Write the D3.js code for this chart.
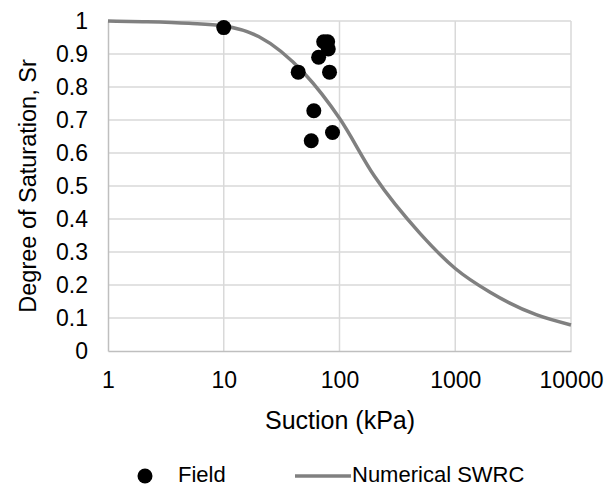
<!DOCTYPE html>
<html>
<head>
<meta charset="utf-8">
<script src="https://cdn.jsdelivr.net/npm/d3@7"></script>
<style>
body { margin: 0; background: #fff; }
text { font-family: "Liberation Sans", Arial, sans-serif; fill: #000; }
</style>
</head>
<body>
<div id="chart"></div>
<script>
// field measurements
var fieldSuction = [10, 73, 79, 80, 66, 44, 82, 60, 87, 57];
var fieldSr      = [0.98, 0.937, 0.937, 0.915, 0.89, 0.845, 0.845, 0.728, 0.662, 0.637];

// numerical SWRC
var swrcSuction = [1, 2, 5, 10, 20, 50, 100, 200, 500, 1000, 2000, 5000, 10000];
var swrcSr      = [1.0, 0.998, 0.993, 0.985, 0.953, 0.84, 0.705, 0.53, 0.355, 0.25, 0.178, 0.11, 0.079];

var xTicks = [1, 10, 100, 1000, 10000];
var yTicks = [0, 0.1, 0.2, 0.3, 0.4, 0.5, 0.6, 0.7, 0.8, 0.9, 1];

function main() {
    var W = 607, H = 487;
    var x = d3.scaleLog().domain([1, 10000]).range([108, 571]);
    var y = d3.scaleLinear().domain([0, 1]).range([351, 21]);

    var svg = d3.select("#chart").append("svg")
        .attr("width", W).attr("height", H);

    // gridlines
    var grid = svg.append("g");
    grid.selectAll("line.h")
        .data(yTicks.slice(1))
        .enter().append("line")
        .attr("x1", x(1)).attr("x2", x(10000))
        .attr("y1", function(d) { return y(d); })
        .attr("y2", function(d) { return y(d); })
        .attr("stroke", "#d9d9d9").attr("stroke-width", 1.5);
    grid.selectAll("line.v")
        .data(xTicks.slice(1))
        .enter().append("line")
        .attr("x1", function(d) { return x(d); })
        .attr("x2", function(d) { return x(d); })
        .attr("y1", y(0)).attr("y2", y(1))
        .attr("stroke", "#d9d9d9").attr("stroke-width", 1.5);

    // axes
    var xAxis = d3.axisBottom(x).tickValues(xTicks).tickSize(0).tickPadding(21)
        .tickFormat(d3.format("d"));
    var gx = svg.append("g").attr("transform", "translate(0," + y(0) + ")").call(xAxis);
    var yAxis = d3.axisLeft(y).tickValues(yTicks).tickSize(0).tickPadding(20)
        .tickFormat(function(d) { return d === 0 || d === 1 ? d3.format("d")(d) : d3.format(".1f")(d); });
    var gy = svg.append("g").attr("transform", "translate(" + x(1) + ",0)").call(yAxis);
    [gx, gy].forEach(function(g) {
        g.select(".domain").attr("stroke", "#bfbfbf").attr("stroke-width", 1.5);
        g.selectAll("text").style("font-size", "23px")
            .style("font-family", "'Liberation Sans', Arial, sans-serif").attr("fill", "#000");
    });

    // curve
    var swrc = swrcSuction.map(function(s, i) { return [s, swrcSr[i]]; });
    var line = d3.line()
        .x(function(d) { return x(d[0]); })
        .y(function(d) { return y(d[1]); })
        .curve(d3.curveMonotoneX);
    svg.append("path").datum(swrc)
        .attr("d", line)
        .attr("fill", "none")
        .attr("stroke", "#808080")
        .attr("stroke-width", 3.5);

    // points
    var field = fieldSuction.map(function(s, i) { return [s, fieldSr[i]]; });
    svg.append("g").selectAll("circle")
        .data(field)
        .enter().append("circle")
        .attr("cx", function(d) { return x(d[0]); })
        .attr("cy", function(d) { return y(d[1]); })
        .attr("r", 7.5)
        .attr("fill", "#000");

    // titles
    svg.append("text")
        .attr("x", 340).attr("y", 429)
        .attr("text-anchor", "middle")
        .style("font-size", "25px")
        .text("Suction (kPa)");
    svg.append("text")
        .attr("transform", "translate(36," + 186 + ") rotate(-90)")
        .attr("text-anchor", "middle")
        .style("font-size", "23.5px")
        .text("Degree of Saturation, Sr");

    // legend
    var lg = svg.append("g");
    lg.append("circle").attr("cx", 145).attr("cy", 476).attr("r", 7.5).attr("fill", "#000");
    lg.append("text").attr("x", 178).attr("y", 482).style("font-size", "22px").text("Field");
    lg.append("line").attr("x1", 295).attr("x2", 351).attr("y1", 476).attr("y2", 476)
        .attr("stroke", "#808080").attr("stroke-width", 3.5);
    lg.append("text").attr("x", 352).attr("y", 482).style("font-size", "22px").text("Numerical SWRC");
}

main();
</script>
</body>
</html>
